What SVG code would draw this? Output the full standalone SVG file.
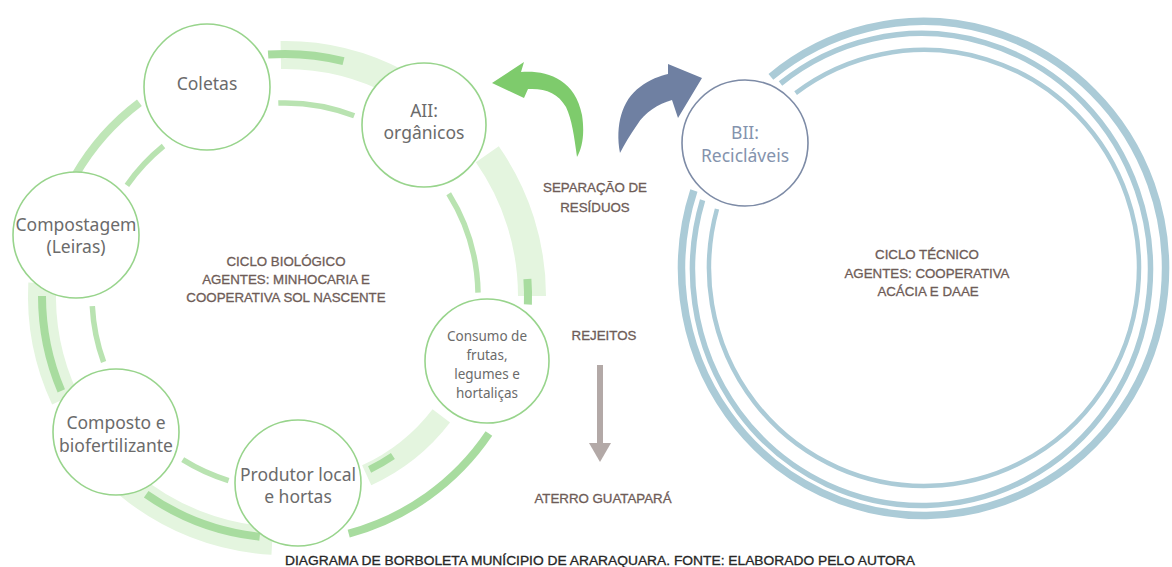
<svg xmlns="http://www.w3.org/2000/svg" width="1172" height="567" viewBox="0 0 1172 567">
<style>
.node circle{fill:#fff;stroke:#98d48c;stroke-width:1.6}
#bii circle{fill:#fff;stroke:#7d8ba6;stroke-width:1.6}
.lbl{font-family:"Noto Sans","Liberation Sans",sans-serif;font-size:17.5px;fill:#6b6b6b;text-anchor:middle}
.sm{font-size:13.5px}
#bii text{fill:#8493ad}
.cap{font-family:"Liberation Sans",Arial,sans-serif;font-size:13.3px;fill:#6e5c57;stroke:#6e5c57;stroke-width:0.3;text-anchor:middle}
.foot{font-family:"Liberation Sans",Arial,sans-serif;font-size:12.5px;fill:#262626;stroke:#262626;stroke-width:0.3;text-anchor:middle}
.band{fill:none;stroke:#e4f5df;stroke-width:28}
.thick{fill:none;stroke:#a8dc9f;stroke-width:8}
.thick2{fill:none;stroke:#bfe6b7;stroke-width:8}
.thin{fill:none;stroke:#b9e3b1;stroke-width:5.5}
.ring{fill:none;stroke:#abcbd7}
</style>
<rect width="1172" height="567" fill="#fff"/>
<g id="connectors">
  <path class="band" d="M280.8,55 A241,241 0 0 1 398.1,83.2"/>
  <path class="band" d="M487.3,154.3 A247,247 0 0 1 532,296"/>
  <path class="band" d="M64.8,398.7 A243,243 0 0 1 42.3,283.3"/>
  <path class="band" d="M272.2,540.7 A245,245 0 0 1 127.5,483.7"/>
  <path class="band" style="stroke-width:22" d="M441.3,415.9 A197,197 0 0 1 366.7,475.3"/>
  <path class="thick" d="M268.1,54.6 A242,242 0 0 1 343.5,61.2"/>
  <path class="thick2" d="M75.4,175 A242,242 0 0 1 139.4,102.7"/>
  <path class="thick" d="M61.3,390.9 A243,243 0 0 1 42,296"/>
  <path class="thick" d="M259.7,536.7 A242,242 0 0 1 146.2,494.2"/>
  <path class="thick" d="M488.9,433.6 A246,246 0 0 1 348.7,533.6"/>
  <path class="thick" d="M527.4,279 A243,243 0 0 1 527.9,304.5"/>
  <path class="thin" d="M278.3,103.1 A193,193 0 0 1 354.2,115.8"/>
  <path class="thin" d="M448.7,193.7 A193,193 0 0 1 478,292.6"/>
  <path class="thin" d="M228.6,480.6 A193,193 0 0 1 182.7,459.7"/>
  <path class="thin" d="M103.6,362 A193,193 0 0 1 92.3,306.1"/>
  <path class="thin" d="M126.9,185.3 A193,193 0 0 1 163.5,146"/>
  <path class="thick" style="stroke-width:7" d="M392.9,456 A193,193 0 0 1 369.6,469.5"/>
  <path class="ring" stroke-width="7.5" d="M770.9,76.8 A242,247 0 1 1 693.9,190.5"/>
  <path class="ring" stroke-width="5.5" d="M780.5,83.5 A229,236 0 1 1 702.6,200.1"/>
  <path class="ring" stroke-width="4.5" d="M795.6,93.1 A215,218 0 1 1 717,209"/>
  <path fill="#7ecb6c" d="M492,83 L524,62 L521,72 C545,70 575,78 582,115 C585,135 582,148 577,157 C574,135 572,120 566,107 C558,93 545,88 528,89 L524,98 Z"/>
  <path fill="#6f80a2" d="M620,153 C615,125 622,100 640,87 C650,79 660,76 668,74 L668,64 L702,78 L678,118 L672,100 C658,104 645,112 637,125 C630,135 624,145 620,153 Z"/>
  <rect x="597" y="365" width="6" height="80" fill="#b3a9a7"/>
  <path fill="#b3a9a7" d="M589,443 L611,443 L600,462 Z"/>
</g>
<g id="coletas" class="node"><circle cx="207" cy="87" r="63"/><text class="lbl" x="207" y="90">Coletas</text></g>
<g id="aii" class="node"><circle cx="424" cy="125" r="62"/><text class="lbl" x="424" y="117">AII:</text><text class="lbl" x="424" y="139">orgânicos</text></g>
<g id="compostagem" class="node"><circle cx="76" cy="235" r="63"/><text class="lbl" x="76" y="231">Compostagem</text><text class="lbl" x="76" y="253">(Leiras)</text></g>
<g id="consumo" class="node"><circle cx="487" cy="361" r="62"/><text class="lbl sm" x="487" y="341">Consumo de</text><text class="lbl sm" x="487" y="360">frutas,</text><text class="lbl sm" x="487" y="379">legumes e</text><text class="lbl sm" x="487" y="398">hortaliças</text></g>
<g id="composto" class="node"><circle cx="116" cy="432" r="63"/><text class="lbl" x="116" y="429">Composto e</text><text class="lbl" x="116" y="452">biofertilizante</text></g>
<g id="produtor" class="node"><circle cx="298" cy="483" r="63"/><text class="lbl" x="298" y="481">Produtor local</text><text class="lbl" x="298" y="503">e hortas</text></g>
<g id="bii"><circle cx="745" cy="143" r="63"/><text class="lbl" x="745" y="139">BII:</text><text class="lbl" x="745" y="162">Recicláveis</text></g>
<g id="labels">
  <text class="cap" x="595" y="192">SEPARAÇÃO DE</text>
  <text class="cap" x="595" y="212">RESÍDUOS</text>
  <text class="cap" x="604" y="340">REJEITOS</text>
  <text class="cap" x="603" y="503">ATERRO GUATAPARÁ</text>
  <text class="cap" x="286" y="266">CICLO BIOLÓGICO</text>
  <text class="cap" x="286" y="284">AGENTES: MINHOCARIA E</text>
  <text class="cap" x="286" y="302">COOPERATIVA SOL NASCENTE</text>
  <text class="cap" x="927" y="259">CICLO TÉCNICO</text>
  <text class="cap" x="927" y="278">AGENTES: COOPERATIVA</text>
  <text class="cap" x="928" y="296">ACÁCIA E DAAE</text>
  <text class="foot" x="600" y="565" textLength="630" lengthAdjust="spacingAndGlyphs">DIAGRAMA DE BORBOLETA MUNÍCIPIO DE ARARAQUARA. FONTE: ELABORADO PELO AUTORA</text>
</g>
</svg>
